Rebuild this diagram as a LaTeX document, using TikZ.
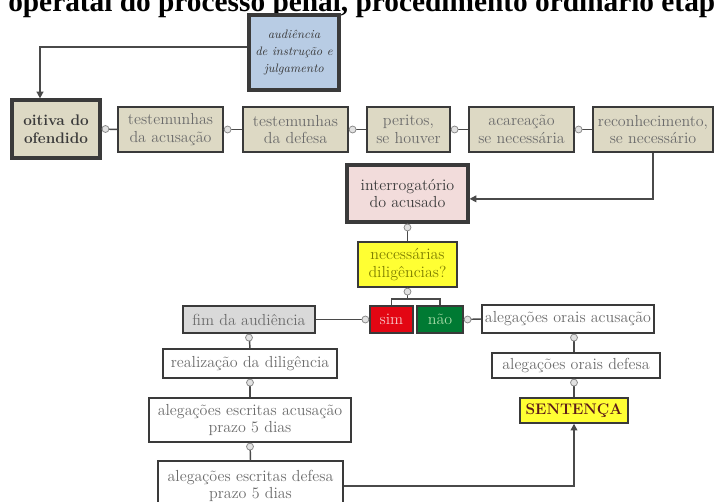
\documentclass[tikz,border=0pt]{standalone}
\usepackage{fontspec}
\usepackage{xcolor}
\newfontfamily\titlefont{Liberation Serif}
\usetikzlibrary{arrows.meta}
\definecolor{edge}{HTML}{3A3A3A}
\definecolor{grey}{HTML}{6B6B6B}
\definecolor{beige}{HTML}{DDD9C4}
\definecolor{sky}{HTML}{B8CCE4}
\definecolor{rose}{HTML}{F2DCDB}
\definecolor{lemon}{HTML}{FFFF33}
\definecolor{olive}{HTML}{7F7F00}
\definecolor{simred}{HTML}{E30613}
\definecolor{simtext}{HTML}{F6C4C4}
\definecolor{naogreen}{HTML}{007A33}
\definecolor{naotext}{HTML}{A8DCA8}
\definecolor{fimgrey}{HTML}{D9D9D9}
\definecolor{maroon}{HTML}{5C1A1A}
\definecolor{linec}{HTML}{4A4A4A}
\definecolor{dotfill}{HTML}{E2E2E2}
\definecolor{dotedge}{HTML}{8C8C8C}

\begin{document}
\begin{tikzpicture}[x=0.75pt, y=-0.75pt, >={Triangle[length=5pt, width=5pt]},
  box/.style={rectangle, draw=edge, line width=1.1pt, inner sep=0pt, align=center, text=grey, font=\fontsize{12}{13.3}\selectfont},
  heavy/.style={box, line width=2.4pt, text=edge},
  dot/.style={circle, draw=dotedge, fill=dotfill, line width=0.6pt, minimum size=5.2pt, inner sep=0pt},
  link/.style={draw=linec, line width=1.1pt}]
\useasboundingbox (0,0) rectangle (714,502);
% title, cut by the top edge
\node[font=\titlefont\bfseries\fontsize{22}{26}\selectfont, anchor=base west, inner sep=0pt] (title) at (8,12) {operatal do processo penal, procedimento ordinário etap};
% top row
\node[heavy, fill=sky, minimum width=67.5pt, minimum height=56.25pt, font=\itshape\fontsize{9.2}{13}\selectfont] (aud) at (294,52.5) {audiência\\de instrução e\\julgamento};
\node[heavy, fill=beige, minimum width=66pt, minimum height=43.5pt, font=\bfseries\fontsize{11.5}{13.3}\selectfont] (oit) at (56,129) {oitiva do\\ofendido};
\node[box, fill=beige, minimum width=78.75pt, minimum height=33.75pt] (tac) at (170.5,129.5) {testemunhas\\da acusação};
\node[box, fill=beige, minimum width=78.75pt, minimum height=33.75pt] (tdf) at (295.5,129.5) {testemunhas\\da defesa};
\node[box, fill=beige, minimum width=62.25pt, minimum height=33.75pt] (per) at (408.5,129.5) {peritos,\\se houver};
\node[box, fill=beige, minimum width=78.75pt, minimum height=33.75pt] (aca) at (521.5,129.5) {acareação\\se necessária};
\node[box, fill=beige, minimum width=90pt, minimum height=33.75pt] (rec) at (653,129.5) {reconhecimento,\\se necessário};
% middle
\node[heavy, fill=rose, minimum width=90.75pt, minimum height=42.75pt] (int) at (407.5,193.5) {interrogatório\\do acusado};
\node[box, fill=lemon, text=olive, minimum width=74.25pt, minimum height=33.75pt] (nec) at (407.5,264.5) {necessárias\\diligências?};
\node[box, fill=simred, text=simtext, minimum width=32.25pt, minimum height=20.25pt] (sim) at (391.5,319.5) {sim};
\node[box, fill=naogreen, text=naotext, minimum width=34.5pt, minimum height=20.25pt] (nao) at (440,319.5) {não};
\coordinate (fork) at (407.5,299);
% left column
\node[box, fill=fimgrey, minimum width=99pt, minimum height=20.25pt] (fim) at (249,319.5) {fim da audiência};
\node[box, fill=white, minimum width=130.5pt, minimum height=21.75pt] (rea) at (250,363.5) {realização da diligência};
\node[box, fill=white, minimum width=151.5pt, minimum height=33pt] (eac) at (250,420) {alegações escritas acusação\\prazo 5 dias};
\node[box, fill=white, minimum width=138.75pt, minimum height=37.5pt] (edf) at (250.5,486) {alegações escritas defesa\\prazo 5 dias};
% right column
\node[box, fill=white, minimum width=129pt, minimum height=21pt] (oac) at (568,319) {alegações orais acusação};
\node[box, fill=white, minimum width=126pt, minimum height=18.75pt] (odf) at (576,365.5) {alegações orais defesa};
\node[box, fill=lemon, text=maroon, minimum width=81pt, minimum height=18.75pt, font=\bfseries\fontsize{11.5}{13}\selectfont] (sen) at (574,410.5) {SENTENÇA};
% connectors
\draw[link, ->] ([yshift=4pt]aud.west) -| ([xshift=-12pt]oit.north);
\draw[link] (oit.east) -- node[at start, dot, anchor=west] {} (tac.west);
\draw[link] (tac.east) -- node[at start, dot, anchor=west] {} (tdf.west);
\draw[link] (tdf.east) -- node[at start, dot, anchor=west] {} (per.west);
\draw[link] (per.east) -- node[at start, dot, anchor=west] {} (aca.west);
\draw[link] (aca.east) -- node[at start, dot, anchor=west] {} (rec.west);
\draw[link, ->] (rec.south) |- ([yshift=-4pt]int.east);
\draw[link] (int.south) -- node[at start, dot, anchor=north] {} (nec.north);
\draw[link] (nec.south) -- node[at start, dot, anchor=north] {} (fork);
\draw[link] (sim.north) |- (fork) -| (nao.north);
\draw[link] (sim.west) -- node[at start, dot, anchor=east] {} (fim.east);
\draw[link] (nao.east) -- node[at start, dot, anchor=west] {} (oac.west);
\draw[link] (fim.south) -- node[at start, dot, anchor=north] {} (rea.north);
\draw[link] (rea.south) -- node[at start, dot, anchor=north] {} (eac.north);
\draw[link] (eac.south) -- node[at start, dot, anchor=north] {} (edf.north);
\draw[link] (oac.south -| sen.north) -- node[at start, dot, anchor=north] {} (odf.north -| sen.north);
\draw[link] (odf.south -| sen.north) -- node[at start, dot, anchor=north] {} (sen.north);
\draw[link, ->] (edf.east) -| (sen.south);
\end{tikzpicture}
\end{document}
